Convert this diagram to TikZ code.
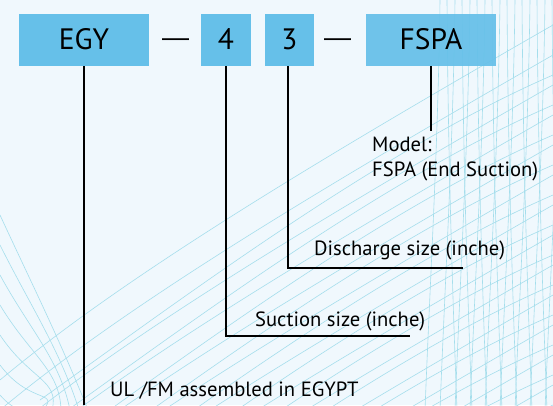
\documentclass[tikz,border=0pt]{standalone}
\usepackage{fontspec}
\setmainfont{PT Sans}
\newfontfamily\dashfont{Liberation Sans}
\definecolor{bgcol}{RGB}{240,248,253}
\definecolor{boxcol}{RGB}{102,192,233}
\definecolor{linecol}{RGB}{165,222,236}
\begin{document}
\begin{tikzpicture}[x=1pt,y=-1pt,
  codebox/.style={fill=boxcol,draw=none,inner sep=0pt},
  boxtxt/.style={inner sep=0pt,anchor=base,font=\fontsize{29.5}{31}\selectfont},
  dashtxt/.style={inner sep=0pt,anchor=base,font=\dashfont\fontsize{27}{30}\selectfont},
  lbl/.style={inner sep=0pt,anchor=base west,font=\fontsize{20.6}{22}\selectfont},
  lead/.style={draw=black,line width=2.5pt},
  bgline/.style={draw=linecol,line width=0.6pt}]
\useasboundingbox (0,0) rectangle (553,405);
\fill[bgcol] (0,0) rectangle (553,405);
\begin{scope}
\clip (0,0) rectangle (553,405);
% rising curves
\foreach \k in {0,...,12}{
  \pgfmathsetmacro{\o}{30*\k}
  \draw[bgline] (0,380+\o) .. controls (120,280+\o) and (300,170+\o) .. (553,25+\o);
  \draw[bgline] (40,400+\o) .. controls (180,300+\o) and (380,150+\o) .. (553,75+\o);
}
% descending curves on left
\foreach \j in {0,...,6}{
  \draw[bgline] (0,215+30*\j) .. controls (30,280+25*\j) and (60,340+10*\j) .. (88-9*\j,410);
}
% near-vertical lines on right
\foreach \i in {0,...,8}{
  \draw[bgline] (440+15*\i,0) .. controls (438+15*\i,150) and (430+15*\i,280) .. (425+15*\i,410);
  \draw[bgline] (447+15*\i,0) .. controls (448+15*\i,150) and (452+15*\i,280) .. (457+15*\i,410);
}
\end{scope}
% code boxes
\node[codebox,minimum width=130pt,minimum height=52pt] (egy) at (84,40) {};
\node[codebox,minimum width=50pt,minimum height=52pt] (four) at (226,40) {};
\node[codebox,minimum width=49pt,minimum height=52pt] (three) at (289.5,40) {};
\node[codebox,minimum width=130pt,minimum height=52pt,fill opacity=0.93] (fspa) at (431,40) {};
\node[boxtxt] (tegy) at (84,49.5) {EGY};
\node[boxtxt] (tfour) at (226,49.5) {4};
\node[boxtxt] (tthree) at (289.5,49.5) {3};
\node[boxtxt] (tfspa) at (431,49.5) {FSPA};
\node[dashtxt] (d1) at (175.5,46) {—};
\node[dashtxt] (d2) at (337.5,46) {—};
% leader lines
\coordinate (egyend) at (84,405);
\coordinate (fourc) at (226,336);
\coordinate (fourend) at (410,336);
\coordinate (threec) at (288,268);
\coordinate (threeend) at (463,268);
\coordinate (fspaend) at (431,131);
\draw[lead] (egy.south) -- (egyend);
\draw[lead] (four.south) -- (fourc) -- (fourend);
\draw[lead] (three.south -| threec) -- (threec) -- (threeend);
\draw[lead] (fspa.south) -- (fspaend);
% labels
\node[lbl] (m1) at (372,151) {Model:};
\node[lbl] (m2) at (372,176) {FSPA (End Suction)};
\node[lbl] (dis) at (314,255) {Discharge size (inche)};
\node[lbl] (suc) at (255,326) {Suction size (inche)};
\node[lbl] (ul) at (110,396) {UL /FM assembled in EGYPT};
\end{tikzpicture}
\end{document}
